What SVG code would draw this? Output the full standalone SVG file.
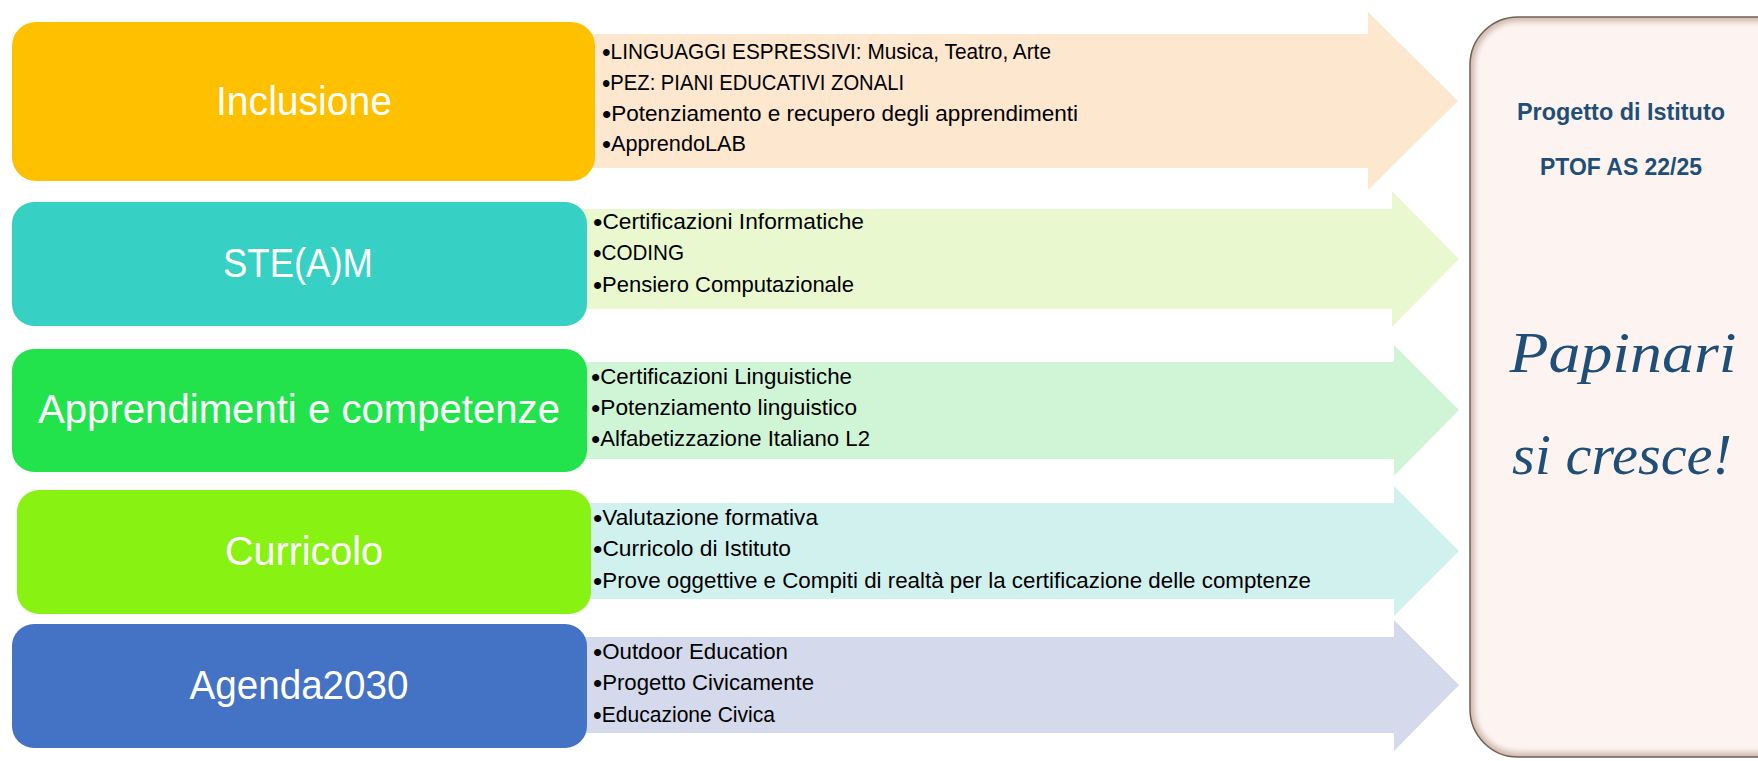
<svg xmlns="http://www.w3.org/2000/svg" width="1758" height="761" viewBox="0 0 1758 761">
  <style>
    .box { stroke: none; }
    .label { font-family: "Liberation Sans", Arial, sans-serif; font-size: 40px; fill: #ffffff; text-anchor: middle; }
    .item { font-family: "Liberation Sans", Arial, sans-serif; font-size: 22px; fill: #000000; }
    .b { font-size: 26px; }
    .panel-title { font-family: "Liberation Sans", Arial, sans-serif; font-size: 24px; font-weight: bold; fill: #1F4E79; text-anchor: middle; }
    .script { font-family: "Liberation Serif", "Times New Roman", serif; font-style: italic; font-size: 56px; fill: #1F4E79; text-anchor: middle; }
  </style>
  <defs>
    <filter id="soft" x="-5%" y="-5%" width="110%" height="110%">
      <feGaussianBlur stdDeviation="3"/>
    </filter>
    <clipPath id="panelClip">
      <rect x="1470" y="17" width="340" height="740" rx="48" ry="48"/>
    </clipPath>
  </defs>
  <rect x="0" y="0" width="1758" height="761" fill="#ffffff"/>

  <g id="connectors">
    <g id="arrow-inclusione">
      <polygon points="560,34 1368,34 1368,12 1458,101 1368,190 1368,168 560,168" fill="#FDE7CE"/>
      <text class="item" x="602" y="59" textLength="449" lengthAdjust="spacingAndGlyphs"><tspan class="b" dy="2">•</tspan><tspan dy="-2">LINGUAGGI ESPRESSIVI: Musica, Teatro, Arte</tspan></text>
      <text class="item" x="602" y="90" textLength="302" lengthAdjust="spacingAndGlyphs"><tspan class="b" dy="2">•</tspan><tspan dy="-2">PEZ: PIANI EDUCATIVI ZONALI</tspan></text>
      <text class="item" x="602" y="121" textLength="476" lengthAdjust="spacingAndGlyphs"><tspan class="b" dy="2">•</tspan><tspan dy="-2">Potenziamento e recupero degli apprendimenti</tspan></text>
      <text class="item" x="602" y="151" textLength="144" lengthAdjust="spacingAndGlyphs"><tspan class="b" dy="2">•</tspan><tspan dy="-2">ApprendoLAB</tspan></text>
    </g>
    <g id="arrow-steam">
      <polygon points="560,209 1392,209 1392,191 1459,259 1392,327 1392,309 560,309" fill="#EAF8CF"/>
      <text class="item" x="593" y="229" textLength="271" lengthAdjust="spacingAndGlyphs"><tspan class="b" dy="2">•</tspan><tspan dy="-2">Certificazioni Informatiche</tspan></text>
      <text class="item" x="593" y="260" textLength="91" lengthAdjust="spacingAndGlyphs"><tspan class="b" dy="2">•</tspan><tspan dy="-2">CODING</tspan></text>
      <text class="item" x="593" y="292" textLength="261" lengthAdjust="spacingAndGlyphs"><tspan class="b" dy="2">•</tspan><tspan dy="-2">Pensiero Computazionale</tspan></text>
    </g>
    <g id="arrow-apprendimenti">
      <polygon points="560,362 1394,362 1394,345 1459,410 1394,476 1394,459 560,459" fill="#D0F5D6"/>
      <text class="item" x="591" y="384" textLength="261" lengthAdjust="spacingAndGlyphs"><tspan class="b" dy="2">•</tspan><tspan dy="-2">Certificazioni Linguistiche</tspan></text>
      <text class="item" x="591" y="415" textLength="266" lengthAdjust="spacingAndGlyphs"><tspan class="b" dy="2">•</tspan><tspan dy="-2">Potenziamento linguistico</tspan></text>
      <text class="item" x="591" y="446" textLength="279" lengthAdjust="spacingAndGlyphs"><tspan class="b" dy="2">•</tspan><tspan dy="-2">Alfabetizzazione Italiano L2</tspan></text>
    </g>
    <g id="arrow-curricolo">
      <polygon points="560,503 1394,503 1394,486 1459,551 1394,616 1394,599 560,599" fill="#D1F1EF"/>
      <text class="item" x="593" y="525" textLength="225" lengthAdjust="spacingAndGlyphs"><tspan class="b" dy="2">•</tspan><tspan dy="-2">Valutazione formativa</tspan></text>
      <text class="item" x="593" y="556" textLength="198" lengthAdjust="spacingAndGlyphs"><tspan class="b" dy="2">•</tspan><tspan dy="-2">Curricolo di Istituto</tspan></text>
      <text class="item" x="593" y="588" textLength="718" lengthAdjust="spacingAndGlyphs"><tspan class="b" dy="2">•</tspan><tspan dy="-2">Prove oggettive e Compiti di realtà per la certificazione delle comptenze</tspan></text>
    </g>
    <g id="arrow-agenda">
      <polygon points="560,637 1394,637 1394,620 1459,685 1394,751 1394,733 560,733" fill="#D4D9EC"/>
      <text class="item" x="593" y="659" textLength="195" lengthAdjust="spacingAndGlyphs"><tspan class="b" dy="2">•</tspan><tspan dy="-2">Outdoor Education</tspan></text>
      <text class="item" x="593" y="690" textLength="221" lengthAdjust="spacingAndGlyphs"><tspan class="b" dy="2">•</tspan><tspan dy="-2">Progetto Civicamente</tspan></text>
      <text class="item" x="593" y="722" textLength="182" lengthAdjust="spacingAndGlyphs"><tspan class="b" dy="2">•</tspan><tspan dy="-2">Educazione Civica</tspan></text>
    </g>
  </g>

  <g id="node-inclusione">
    <rect class="box" x="12" y="22" width="583" height="159" rx="24" ry="24" fill="#FFC000"/>
    <text class="label" x="304" y="115" textLength="176" lengthAdjust="spacingAndGlyphs">Inclusione</text>
  </g>
  <g id="node-steam">
    <rect class="box" x="12" y="202" width="575" height="124" rx="22" ry="22" fill="#36D1C4"/>
    <text class="label" x="298" y="277" textLength="150" lengthAdjust="spacingAndGlyphs">STE(A)M</text>
  </g>
  <g id="node-apprendimenti">
    <rect class="box" x="12" y="349" width="575" height="123" rx="22" ry="22" fill="#23E34D"/>
    <text class="label" x="299" y="423" textLength="522" lengthAdjust="spacingAndGlyphs">Apprendimenti e competenze</text>
  </g>
  <g id="node-curricolo">
    <rect class="box" x="17" y="490" width="574" height="124" rx="22" ry="22" fill="#88F213"/>
    <text class="label" x="304" y="565" textLength="158" lengthAdjust="spacingAndGlyphs">Curricolo</text>
  </g>
  <g id="node-agenda">
    <rect class="box" x="12" y="624" width="575" height="124" rx="22" ry="22" fill="#4472C4"/>
    <text class="label" x="299" y="699" textLength="219" lengthAdjust="spacingAndGlyphs">Agenda2030</text>
  </g>

  <g id="node-progetto">
    <rect x="1470" y="17" width="340" height="740" rx="48" ry="48" fill="#FDF4F1"/>
    <g clip-path="url(#panelClip)">
      <rect x="1470" y="17" width="340" height="740" rx="48" ry="48" fill="none" stroke="#C9AFA3" stroke-width="8" filter="url(#soft)"/>
    </g>
    <rect x="1470" y="17" width="340" height="740" rx="48" ry="48" fill="none" stroke="#6E6058" stroke-width="1.5"/>
    <text class="panel-title" x="1621" y="120" textLength="208" lengthAdjust="spacingAndGlyphs">Progetto di Istituto</text>
    <text class="panel-title" x="1621" y="175" textLength="162" lengthAdjust="spacingAndGlyphs">PTOF AS 22/25</text>
    <text class="script" x="1623" y="372" textLength="227" lengthAdjust="spacingAndGlyphs">Papinari</text>
    <text class="script" x="1622" y="474" textLength="220" lengthAdjust="spacingAndGlyphs">si cresce!</text>
  </g>
</svg>
